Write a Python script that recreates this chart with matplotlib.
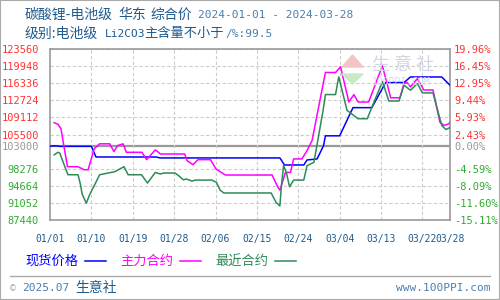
import matplotlib
matplotlib.use('Agg')
import matplotlib.pyplot as plt
from matplotlib.lines import Line2D
from matplotlib.patches import Rectangle, Polygon

plt.rcParams['font.family'] = ['DejaVu Sans Mono', 'Noto Sans CJK SC']

# days since 2024-01-01 and prices (yuan/ton)
spot_day = [0, 0.5, 1.5, 2, 9, 10, 23, 24, 50, 51, 55.2, 55.9, 58.1, 59.5, 59.9,
            63, 65.9, 70, 73, 77, 78.4, 85.2, 87]
spot_val = [103000, 103100, 103100, 103000, 103000, 100750, 100750, 100550, 100550,
            99060, 99060, 100120, 100340, 103160, 105220, 105220, 111170, 111170,
            116480, 116480, 117650, 117650, 115910]

main_day = [0.9, 1.7, 2.4, 3.0, 3.8, 6.1, 7.4, 8.3, 9.6, 10.8, 13, 13.9, 14.7, 15.9,
            16.6, 20, 21, 22.9, 23.6, 24, 29.3, 29.8, 31.1, 32.2, 34.9, 36.1, 37.8,
            38.1, 48.3, 49.6, 50.0, 50.5, 51.2, 52.3, 53, 54.8, 55.9, 57, 59.9, 62.1,
            63.2, 65, 66.1, 67, 69.3, 72.3, 74.1, 76.1, 77, 77.7, 78.4, 79.9, 81.3,
            83.3, 84.8, 85.7, 86.8, 87]
main_val = [107990, 107690, 106710, 103160, 98700, 98700, 98060, 98060, 102460, 103530,
            103530, 101890, 103160, 103530, 101740, 101740, 100190, 102250, 101740,
            101380, 101380, 99975, 99125, 100190, 100190, 98210, 97150, 96940, 96940,
            94305, 93750, 95240, 97490, 97490, 100340, 100340, 102100, 104225, 118600,
            118600, 119800, 112360, 113935, 112360, 112360, 120000, 113250, 113250,
            116270, 116480, 115550, 117300, 114900, 114900, 108120, 107410, 107770,
            108120]

near_day = [0.9, 1.7, 2.1, 3.9, 6.1, 6.6, 7.0, 7.9, 8.6, 9.6, 10.8, 12.6, 14.1, 16.1,
            17, 19.9, 21.2, 22.9, 24, 24.7, 27.2, 28, 29, 29.7, 30.9, 31.6, 35.2, 36.2,
            37, 37.8, 48.1, 49.2, 50.0, 50.3, 50.8, 51.4, 52.1, 53, 55.2, 55.9, 57.4,
            59.4, 59.9, 62.1, 62.8, 64.6, 67, 69, 72.3, 73.7, 75.9, 77, 78.4, 79.9, 81,
            83.3, 85.2, 86.1, 87]
near_val = [101190, 101740, 101610, 97000, 97000, 95025, 92900, 90990, 92750, 94665,
            97000, 97360, 97640, 98700, 97000, 97000, 95240, 97490, 97150, 97360, 97360,
            96790, 95940, 96090, 95660, 95875, 95875, 95380, 93750, 93150, 93150, 91115,
            90415, 94300, 98915, 97490, 94450, 95875, 95875, 98915, 99620, 110600,
            113935, 113935, 117675, 110600, 108835, 108835, 116700, 112575, 112575,
            115910, 114850, 116270, 114285, 114285, 107410, 106560, 106960]

base = 103000
y_ticks = [123560, 119948, 116336, 112724, 109112, 105500, 103000, 98276, 94664, 91052, 87440]
x_ticks = [0, 9, 18, 27, 36, 45, 54, 63, 72, 81, 87]
x_labels = ['01/01', '01/10', '01/19', '01/28', '02/06', '02/15', '02/24',
            '03/04', '03/13', '03/22', '03/28']

W, H = 500, 300
def fx(x): return x / W
def fy(y): return 1 - y / H

fig = plt.figure(figsize=(5, 3), dpi=100)
ax = fig.add_axes([fx(50), fy(220), fx(400), 171 / H])

red, grey, green = '#ff3333', '#999999', '#33aa33'
navy = '#1f5b8e'
cjk = ['Noto Sans CJK SC']

ax.set_xlim(0, 87)
ax.set_ylim(87440, 123560)
for v in y_ticks:
    if v == base:
        ax.axhline(v, color='#999999', lw=1.6, zorder=1)
    else:
        ax.axhline(v, color='#cccccc', lw=0.8, ls=(0, (3, 2)), zorder=1)
for d in x_ticks[1:-1]:
    ax.axvline(d, color='#cccccc', lw=0.8, ls=(0, (3, 2)), zorder=1)

ax.plot(spot_day, spot_val, color='#0000ff', lw=1.1, zorder=3)
ax.plot(main_day, main_val, color='#ff00ff', lw=1.1, zorder=3)
ax.plot(near_day, near_val, color='#2e8b57', lw=1.1, zorder=3)

for s in ax.spines.values():
    s.set_color('#999999')
    s.set_linewidth(1.2)

ax.set_xticks(x_ticks)
ax.set_xticklabels(x_labels, fontsize=7, color=navy)
ax.tick_params(axis='x', length=0, pad=10)
ax.set_yticks(y_ticks)
ax.set_yticklabels([str(v) for v in y_ticks], fontsize=7.5)
ax.tick_params(axis='y', length=0, pad=8)
for lab, v in zip(ax.get_yticklabels(), y_ticks):
    lab.set_color(red if v > base else (grey if v == base else green))

ax2 = ax.twinx()
ax2.set_ylim(ax.get_ylim())
ax2.set_yticks(y_ticks)
ax2.set_yticklabels(['%.2f%%' % ((v / base - 1) * 100) for v in y_ticks], fontsize=7.5)
ax2.tick_params(axis='y', length=0, pad=3)
for lab, v in zip(ax2.get_yticklabels(), y_ticks):
    lab.set_color(red if v > base else (grey if v == base else green))
for s in ax2.spines.values():
    s.set_visible(False)

# watermark
fig.patches.append(Polygon([(fx(342), fy(67)), (fx(363), fy(67)), (fx(352.5), fy(55))],
                           closed=True, transform=fig.transFigure, color='#f4c4c4', zorder=0))
fig.patches.append(Polygon([(fx(342), fy(74)), (fx(363), fy(74)), (fx(352.5), fy(84))],
                           closed=True, transform=fig.transFigure, color='#c8e8c8', zorder=0))
fig.text(fx(372), fy(65), '生 意 社', fontsize=13, color='#d0d6e4', va='center',
         family=cjk, zorder=0)
fig.text(fx(372), fy(82), '100PPI.COM', fontsize=7, color='#d8dce8', va='center', zorder=0)

# titles
fig.text(fx(25), fy(15), '碳酸锂-电池级', fontsize=10, color=navy, va='center', family=cjk)
fig.text(fx(118), fy(15), '华东', fontsize=10, color=navy, va='center', family=cjk)
fig.text(fx(150), fy(15), '综合价', fontsize=10, color=navy, va='center', family=cjk)
fig.text(fx(198), fy(15), '2024-01-01 - 2024-03-28', fontsize=8, color='#4a7fae', va='center')
fig.text(fx(25), fy(34), '级别:电池级', fontsize=10, color=navy, va='center', family=cjk)
fig.text(fx(105), fy(34), 'Li2CO3', fontsize=8, color=navy, va='center')
fig.text(fx(144), fy(34), '主含量不小于', fontsize=9.5, color=navy, va='center', family=cjk)
fig.text(fx(225), fy(34), '/%:99.5', fontsize=8, color='#4a7fae', va='center')

# legend
leg = [('现货价格', '#0000ff', 25), ('主力合约', '#ff00ff', 120), ('最近合约', '#2e8b57', 215)]
for name, c, x0 in leg:
    fig.text(fx(x0), fy(261), name, fontsize=9.5, color=c, va='center', family=cjk)
    fig.add_artist(Line2D([fx(x0 + 60), fx(x0 + 81)], [fy(261), fy(261)],
                          color=c, lw=1.1, transform=fig.transFigure))

# footer
fig.add_artist(Line2D([fx(10), fx(490)], [fy(276), fy(276)], color='#aaaaaa', lw=1,
                      transform=fig.transFigure))
fig.text(fx(10), fy(288), '©', fontsize=7, color='#9ab0c8', va='center')
fig.text(fx(22), fy(288), '2025.07', fontsize=8, color='#4a7fae', va='center')
fig.text(fx(75), fy(288), '生意社', fontsize=10, color=navy, va='center', family=cjk)
fig.text(fx(490), fy(288), 'www.100PPI.com', fontsize=8, color='#4a7fae', va='center',
         ha='right')
fig.patches.append(Rectangle((0, 0), 1, 1, transform=fig.transFigure, fill=False,
                             edgecolor='#aaaaaa', lw=1.5))

fig.savefig('out.png', dpi=100)
